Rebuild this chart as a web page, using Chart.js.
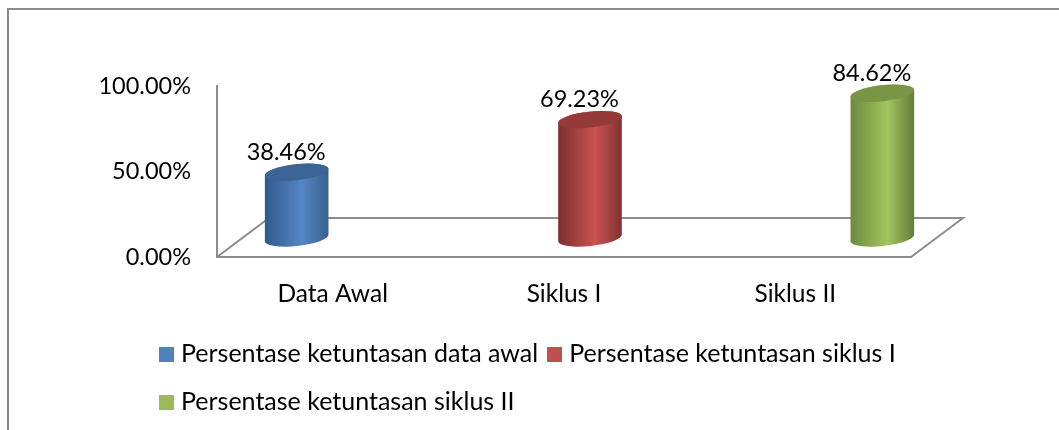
<!DOCTYPE html>
<html lang="en">

<head>
  <meta charset="UTF-8">
  <title>Persentase ketuntasan</title>
  <script src="https://cdn.jsdelivr.net/npm/chart.js"></script>
  <style>
    * {
      margin: 0;
      padding: 0;
      box-sizing: border-box;
    }

    body {
      background: #fff;
      width: 1059px;
      height: 430px;
      overflow: hidden;
      position: relative;
      font-family: 'Lato', sans-serif;
    }

    #chart {
      position: absolute;
      left: 0;
      top: 0;
    }

    .frame {
      position: absolute;
      left: 7px;
      top: 8px;
      right: 0;
      bottom: 0;
      border-top: 2px solid #8c8c8c;
      border-left: 2px solid #8c8c8c;
    }

    #legend {
      position: absolute;
      left: 159px;
      top: 328px;
      width: 790px;
      display: flex;
      flex-wrap: wrap;
      column-gap: 9px;
      font-size: 25px;
      line-height: 48px;
      color: #000;
    }

    #legend span {
      display: inline-block;
      width: 15px;
      height: 15px;
      margin-right: 7px;
    }
  </style>
</head>

<body>
  <div class="frame"></div>
  <canvas id="chart" width="1059" height="430"></canvas>
  <div id="legend"></div>

  <script>
    const categories = ['Data Awal', 'Siklus I', 'Siklus II'];
    const seriesNames = ['Persentase ketuntasan data awal', 'Persentase ketuntasan siklus I', 'Persentase ketuntasan siklus II'];
    const seriesValues = [38.46, 69.23, 84.62];
    const yTicks = [0, 50, 100];

    const legendColors = ['#4f81bd', '#c0504d', '#9bbb59'];
    const capColors = ['#3c6494', '#953a38', '#7a9545'];
    const edgeColors = [['#2f5a8e', '#36608f'], ['#7c302e', '#7f3230'], ['#6d8a3c', '#637d36']];
    const midColors = ['#5587c5', '#cb5250', '#a2c55e'];

    // fake 3d: the cylinders and floor are shifted from the real axis position
    const barShift = [-36, 26, 87];
    const barLift = 19;
    const labelShift = -10.5;
    const floorDepth = { x: 52, y: 39 };
    const tilt = -0.11;
    const capHeight = 8;
    const axisGray = '#8c8c8c';
    const font = "23.5px 'Lato', sans-serif";

    function drawCylinder(ctx, el, i) {
      const cx = el.x + barShift[i];
      const top = el.y - barLift;
      const base = el.base - barLift;
      const rx = el.width / 2;

      const grad = ctx.createLinearGradient(cx - rx, 0, cx + rx, 0);
      grad.addColorStop(0, edgeColors[i][0]);
      grad.addColorStop(0.58, midColors[i]);
      grad.addColorStop(1, edgeColors[i][1]);

      ctx.beginPath();
      ctx.ellipse(cx, top, rx, capHeight, tilt, Math.PI, 2 * Math.PI);
      ctx.ellipse(cx, base, rx, capHeight, tilt, 0, Math.PI);
      ctx.closePath();
      ctx.fillStyle = grad;
      ctx.fill();

      ctx.beginPath();
      ctx.ellipse(cx, top, rx, capHeight, tilt, 0, 2 * Math.PI);
      ctx.fillStyle = capColors[i];
      ctx.fill();
    }

    const cylinders = {
      id: 'cylinders',
      beforeDatasetsDraw(chart) {
        const { ctx, chartArea: a } = chart;
        ctx.save();
        ctx.strokeStyle = axisGray;
        ctx.lineWidth = 2;
        ctx.beginPath();
        ctx.moveTo(a.left, a.bottom);
        ctx.lineTo(a.left + floorDepth.x, a.bottom - floorDepth.y);
        ctx.lineTo(a.right + floorDepth.x, a.bottom - floorDepth.y);
        ctx.lineTo(a.right, a.bottom);
        ctx.stroke();
        ctx.restore();
      },
      beforeDatasetDraw(chart, args) {
        const i = args.index;
        drawCylinder(chart.ctx, args.meta.data[i], i);
        return false;
      },
      afterDatasetsDraw(chart) {
        const { ctx } = chart;
        ctx.save();
        ctx.font = font;
        ctx.fillStyle = '#000';
        ctx.textAlign = 'center';
        ctx.textBaseline = 'middle';
        seriesValues.forEach((v, i) => {
          const el = chart.getDatasetMeta(i).data[i];
          ctx.fillText(v.toFixed(2) + '%', el.x + barShift[i] + labelShift, el.y - barLift - 20);
        });
        ctx.restore();
      }
    };

    const chart = new Chart(document.getElementById('chart'), {
      type: 'bar',
      data: {
        labels: categories,
        datasets: seriesNames.map((name, i) => ({
          label: name,
          data: categories.map((c, j) => (j === i ? seriesValues[i] : null)),
          backgroundColor: legendColors[i],
          barThickness: 64,
          grouped: false
        }))
      },
      options: {
        responsive: false,
        animation: false,
        layout: { padding: { top: 86, right: 148 } },
        plugins: {
          legend: { display: false },
          tooltip: { enabled: false }
        },
        scales: {
          x: {
            grid: { display: false },
            border: { color: axisGray, width: 2 },
            afterFit(scale) { scale.height = 173; },
            ticks: { color: '#000', font: { family: 'Lato', size: 24.5 }, padding: 14, maxRotation: 0 }
          },
          y: {
            min: 0,
            max: 100,
            grid: { display: false, drawTicks: false },
            border: { color: axisGray, width: 2 },
            afterFit(scale) { scale.width = 217; },
            afterBuildTicks(scale) { scale.ticks = yTicks.map(v => ({ value: v })); },
            ticks: {
              color: '#000',
              font: { family: 'Lato', size: 23.5 },
              padding: 26,
              callback: v => v.toFixed(2) + '%'
            }
          }
        }
      },
      plugins: [cylinders]
    });

    // two row legend with the tight gaps of the original
    const legendEl = document.getElementById('legend');
    chart.data.datasets.forEach(ds => {
      const item = document.createElement('div');
      const box = document.createElement('span');
      box.style.background = ds.backgroundColor;
      item.appendChild(box);
      item.appendChild(document.createTextNode(ds.label));
      legendEl.appendChild(item);
    });
  </script>
</body>

</html>
